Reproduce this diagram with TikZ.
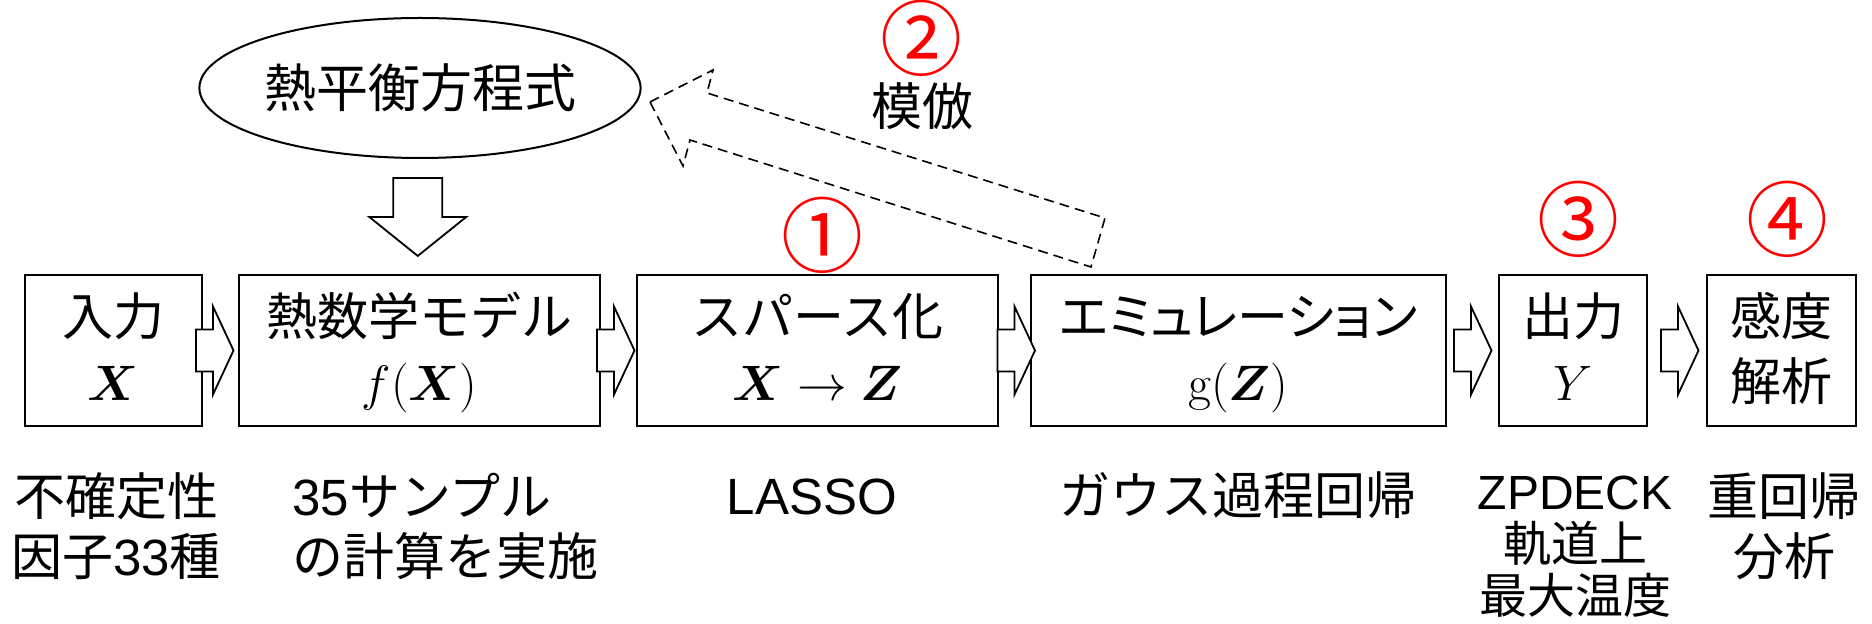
\documentclass[tikz,border=0pt]{standalone}
\usepackage[no-math]{fontspec}
\setmainfont{Noto Sans CJK JP}
\newfontfamily\lat{Liberation Sans}
\usepackage{amsmath,bm}
\usetikzlibrary{shapes.geometric,calc}
\newcommand\stt{\rule[-6pt]{0pt}{30pt}}
\newcommand\rblockarrow[1]{\draw[barrow] ($(#1)+(-18.5,-21)$) -- ++(17,0) -- ++(0,-23) -- ++(20.5,44) -- ++(-20.5,44) -- ++(0,-23) -- ++(-17,0) -- cycle;}
\tikzset{
  txt/.style={font=\fontsize{25.5pt}{32.5pt}\selectfont, align=center, inner sep=0pt},
  box/.style={txt, draw, line width=1.1pt, minimum height=75.5pt},
  barrow/.style={draw, fill=white, line width=0.9pt, line join=miter},
  dasharrow/.style={draw, line width=0.8pt, dash pattern=on 5pt off 3pt, line join=miter},
  num/.style={text=red, font=\fontsize{41pt}{41pt}\selectfont, inner sep=0pt},
  low/.style={font=\fontsize{25.5pt}{30pt}\selectfont, align=center, inner sep=0pt},
}
\begin{document}
\begin{tikzpicture}[x={(0.5pt,0)}, y={(0,-0.5pt)}]
\useasboundingbox (0,0) rectangle (1872,624);
% main boxes
\node[box, minimum width=88.5pt]  (b1) at (113.5,350.5)  {\stt 入力\\\stt$\bm{X}$};
\node[box, minimum width=180.5pt] (b2) at (419.5,350.5)  {\stt 熱数学モデル\\\stt$f(\bm{X})$};
\node[box, minimum width=180.5pt] (b3) at (817.5,350.5)  {\stt スパース化\\\stt$\bm{X}\rightarrow\bm{Z}$};
\node[box, minimum width=207.5pt] (b4) at (1238.5,350.5) {\stt{\addfontfeatures{RawFeature=+palt}エミュレーション}\\\stt$\mathrm{g}(\bm{Z})$};
\node[box, minimum width=74pt]    (b5) at (1573,350.5)   {\stt 出力\\\stt$Y$};
\node[box, minimum width=74.5pt]  (b6) at (1781.5,350.5) {\stt 感度\\\stt 解析};
% ellipse
\node[ellipse, draw, line width=1pt, minimum width=205pt, minimum height=70pt, inner sep=0pt,
      font=\fontsize{26pt}{26pt}\selectfont] (eq) at (420,88) {熱平衡方程式};
% block arrows between boxes
\coordinate (m1) at ($(b1.east)!0.5!(b2.west)+(-6,0)$);
\coordinate (m2) at ($(b2.east)!0.5!(b3.west)+(-3,0)$);
\coordinate (m3) at ($(b3.east)!0.5!(b4.west)+(1.5,0)$);
\coordinate (m4) at ($(b4.east)!0.5!(b5.west)$);
\coordinate (m5) at ($(b5.east)!0.5!(b6.west)+(2.5,0)$);
\rblockarrow{m1}
\rblockarrow{m2}
\rblockarrow{m3}
\rblockarrow{m4}
\rblockarrow{m5}
% down arrow
\coordinate (md) at ($(eq.south)!0.5!(b2.north)+(-2,0)$);
\draw[barrow] ($(md)+(-24.5,-38.5)$) -- ++(49,0) -- ++(0,39) -- ++(24,0) -- ++(-48.5,39) -- ++(-48.5,-39) -- ++(24,0) -- cycle;
% dashed imitation arrow
\coordinate (dtip) at (650,102);
\coordinate (dtail) at (1098,242.5);
\draw[dasharrow] (dtip) -- (713,70) -- (707,93) -- (1105,218) -- (1091,267) -- (690,140) -- (683,166) -- cycle;
% red numbers
\node[num] (n1) at (822,235) {①};
\node[num] (n2) at (921,38) {②};
\node[num] (n3) at (1578,219) {③};
\node[num] (n4) at (1787,219) {④};
\node[txt] (mh) at (922,106) {模倣};
% bottom texts
\node[low] (t1) at (116,527) {\stt 不確定性\\\stt 因子{\lat 33}種};
\node[low, align=left, anchor=west] (t2) at (292,527) {\stt{\lat 35}サンプル\\\stt の計算を実施};
\node[low] (t3) at (812,497) {\stt{\lat LASSO}};
\node[low] (t4) at (1238,497) {\stt ガウス過程回帰};
\node[low, font=\fontsize{24pt}{26pt}\selectfont] (t5) at (1575,547) {{\lat ZPDECK}\\軌道上\\最大温度};
\node[low] (t6) at (1784,527) {\stt 重回帰\\\stt 分析};
\end{tikzpicture}
\end{document}
